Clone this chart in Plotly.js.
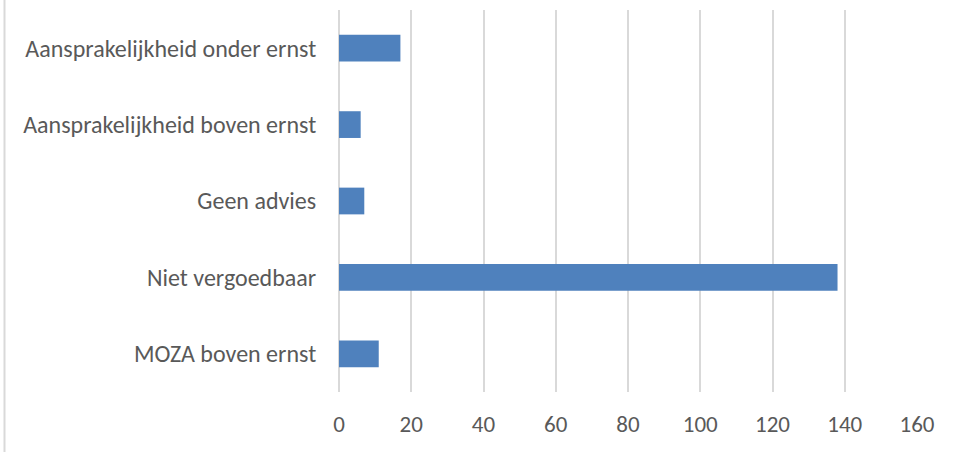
<!DOCTYPE html>
<html>
<head>
<meta charset="utf-8">
<script src="https://cdn.plot.ly/plotly-3.0.1.min.js"></script>
<style>
  html, body { margin: 0; padding: 0; background: #fff; }
  #chart { width: 960px; height: 452px; }
</style>
</head>
<body>
<div id="chart"></div>
<script>
// Categories listed top to bottom as they appear on the chart
const categories = [
  'Aansprakelijkheid onder ernst',
  'Aansprakelijkheid boven ernst',
  'Geen advies',
  'Niet vergoedbaar',
  'MOZA boven ernst'
];
const counts = [17, 6, 7, 138, 11];
const xTicks = [0, 20, 40, 60, 80, 100, 120, 140, 160];

const fontFamily = 'Carlito, Lato, "Open Sans", sans-serif';
const textColor = '#595959';
const gridColor = '#d9d9d9';

const trace = {
  type: 'bar',
  orientation: 'h',
  y: categories,
  x: counts,
  marker: { color: '#4f81bd', line: { width: 0 } },
  hoverinfo: 'x+y'
};

const layout = {
  width: 960,
  height: 452,
  margin: { l: 339, r: 43, t: 10, b: 60, pad: 0 },
  paper_bgcolor: '#ffffff',
  plot_bgcolor: '#ffffff',
  showlegend: false,
  bargap: 0.65,
  font: { family: fontFamily, size: 24, color: textColor },
  xaxis: {
    range: [0, 160],
    tickvals: xTicks,
    ticktext: xTicks.map(String),
    showgrid: true,
    gridcolor: gridColor,
    gridwidth: 2,
    zeroline: true,
    zerolinecolor: gridColor,
    zerolinewidth: 2,
    showline: false,
    ticks: 'outside',
    ticklen: 11,
    tickcolor: 'rgba(0,0,0,0)',
    tickfont: { family: fontFamily, size: 23, color: textColor },
    fixedrange: true
  },
  yaxis: {
    autorange: 'reversed',
    type: 'category',
    showgrid: false,
    zeroline: false,
    showline: false,
    ticks: 'outside',
    ticklen: 17,
    tickcolor: 'rgba(0,0,0,0)',
    tickfont: { family: fontFamily, size: 24, color: textColor },
    fixedrange: true
  },
  shapes: [
    {
      // thin frame edge along the left side of the chart area
      type: 'line', xref: 'paper', yref: 'paper',
      x0: -339 / 578 + 4.5 / 578, x1: -339 / 578 + 4.5 / 578,
      y0: -60 / 382, y1: 1 + 10 / 382,
      line: { color: gridColor, width: 2 }
    }
  ]
};

Plotly.newPlot('chart', [trace], layout, { displayModeBar: false, staticPlot: true });
</script>
</body>
</html>
